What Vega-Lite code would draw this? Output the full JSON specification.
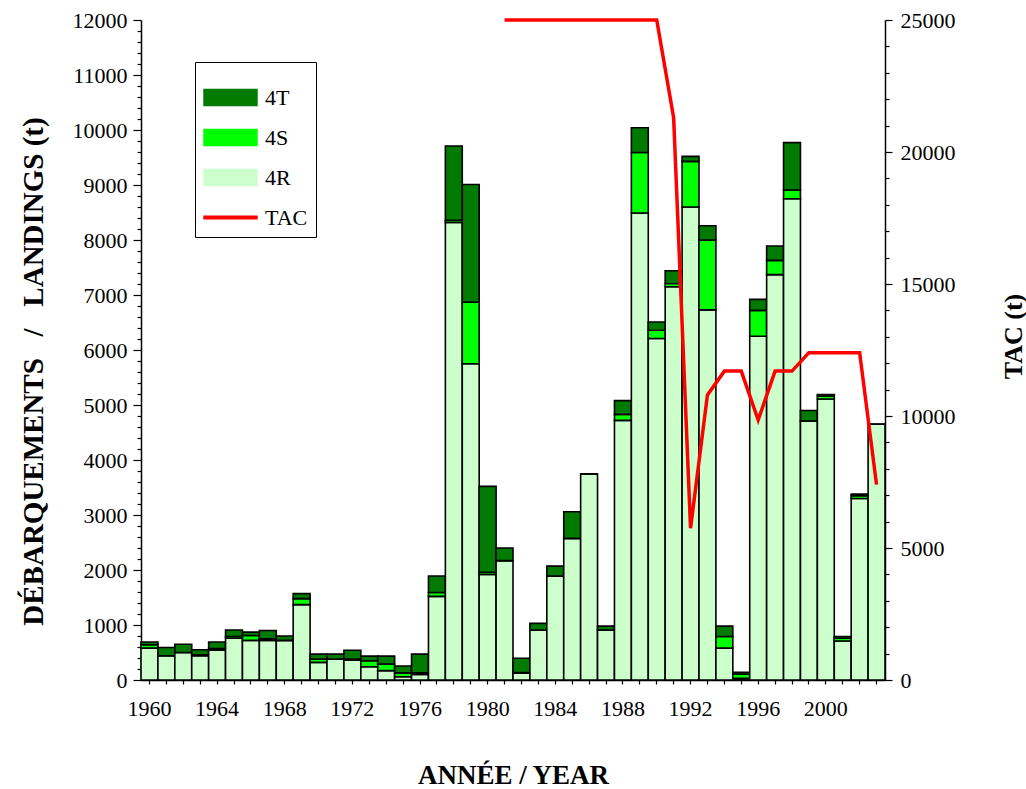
{
  "$schema": "https://vega.github.io/schema/vega-lite/v6.json",
  "width": 744,
  "height": 660,
  "autosize": {"type": "none"},
  "padding": {"left": 141, "top": 20, "right": 141, "bottom": 109},
  "background": "white",
  "config": {
    "view": {"stroke": null},
    "font": "Liberation Serif",
    "axis": {
      "grid": false,
      "domainColor": "black",
      "domainWidth": 1.5,
      "tickColor": "black",
      "tickWidth": 1.2,
      "labelColor": "black",
      "titleColor": "black",
      "labelFont": "Liberation Serif",
      "titleFont": "Liberation Serif",
      "labelFontSize": 22,
      "labelOverlap": false
    }
  },
  "datasets": {
    "landings": [
      {"year": 1960, "4R": 580, "4S": 60, "4T": 50},
      {"year": 1961, "4R": 440, "4S": 0, "4T": 150},
      {"year": 1962, "4R": 500, "4S": 0, "4T": 150},
      {"year": 1963, "4R": 440, "4S": 20, "4T": 90},
      {"year": 1964, "4R": 540, "4S": 30, "4T": 120},
      {"year": 1965, "4R": 760, "4S": 30, "4T": 120},
      {"year": 1966, "4R": 720, "4S": 90, "4T": 60},
      {"year": 1967, "4R": 720, "4S": 30, "4T": 150},
      {"year": 1968, "4R": 720, "4S": 0, "4T": 80},
      {"year": 1969, "4R": 1370, "4S": 110, "4T": 90},
      {"year": 1970, "4R": 320, "4S": 60, "4T": 90},
      {"year": 1971, "4R": 380, "4S": 0, "4T": 90},
      {"year": 1972, "4R": 360, "4S": 20, "4T": 160},
      {"year": 1973, "4R": 240, "4S": 110, "4T": 85},
      {"year": 1974, "4R": 170, "4S": 120, "4T": 145},
      {"year": 1975, "4R": 60, "4S": 70, "4T": 125},
      {"year": 1976, "4R": 100, "4S": 30, "4T": 340},
      {"year": 1977, "4R": 1520, "4S": 70, "4T": 300},
      {"year": 1978, "4R": 8320, "4S": 40, "4T": 1350},
      {"year": 1979, "4R": 5750, "4S": 1120, "4T": 2140},
      {"year": 1980, "4R": 1920, "4S": 40, "4T": 1560},
      {"year": 1981, "4R": 2170, "4S": 0, "4T": 230},
      {"year": 1982, "4R": 125, "4S": 10, "4T": 260},
      {"year": 1983, "4R": 910, "4S": 0, "4T": 120},
      {"year": 1984, "4R": 1890, "4S": 0, "4T": 180},
      {"year": 1985, "4R": 2575, "4S": 0, "4T": 485},
      {"year": 1986, "4R": 3745, "4S": 0, "4T": 0},
      {"year": 1987, "4R": 910, "4S": 0, "4T": 70},
      {"year": 1988, "4R": 4720, "4S": 110, "4T": 250},
      {"year": 1989, "4R": 8490, "4S": 1100, "4T": 450},
      {"year": 1990, "4R": 6210, "4S": 150, "4T": 150},
      {"year": 1991, "4R": 7150, "4S": 60, "4T": 230},
      {"year": 1992, "4R": 8600, "4S": 830, "4T": 90},
      {"year": 1993, "4R": 6730, "4S": 1270, "4T": 260},
      {"year": 1994, "4R": 580, "4S": 210, "4T": 190},
      {"year": 1995, "4R": 30, "4S": 80, "4T": 30},
      {"year": 1996, "4R": 6250, "4S": 470, "4T": 200},
      {"year": 1997, "4R": 7370, "4S": 260, "4T": 260},
      {"year": 1998, "4R": 8750, "4S": 160, "4T": 860},
      {"year": 1999, "4R": 4710, "4S": 0, "4T": 190},
      {"year": 2000, "4R": 5110, "4S": 50, "4T": 30},
      {"year": 2001, "4R": 710, "4S": 50, "4T": 30},
      {"year": 2002, "4R": 3300, "4S": 50, "4T": 30},
      {"year": 2003, "4R": 4650, "4S": 0, "4T": 0}
    ],
    "tac": [
      {"year": 1981, "tac": 25000},
      {"year": 1982, "tac": 25000},
      {"year": 1983, "tac": 25000},
      {"year": 1984, "tac": 25000},
      {"year": 1985, "tac": 25000},
      {"year": 1986, "tac": 25000},
      {"year": 1987, "tac": 25000},
      {"year": 1988, "tac": 25000},
      {"year": 1989, "tac": 25000},
      {"year": 1990, "tac": 25000},
      {"year": 1991, "tac": 21300},
      {"year": 1992, "tac": 5750},
      {"year": 1993, "tac": 10800},
      {"year": 1994, "tac": 11700},
      {"year": 1995, "tac": 11700},
      {"year": 1996, "tac": 9850},
      {"year": 1997, "tac": 11700},
      {"year": 1998, "tac": 11700},
      {"year": 1999, "tac": 12400},
      {"year": 2000, "tac": 12400},
      {"year": 2001, "tac": 12400},
      {"year": 2002, "tac": 12400},
      {"year": 2003, "tac": 7400}
    ]
  },
  "layer": [
    {
      "data": {"name": "landings"},
      "transform": [{"fold": ["4R", "4S", "4T"], "as": ["series", "value"]}],
      "mark": {"type": "bar", "stroke": "black", "strokeWidth": 1.6},
      "encoding": {
        "x": {
          "field": "year",
          "type": "ordinal",
          "scale": {"paddingInner": 0, "paddingOuter": 0},
          "axis": {
            "labelExpr": "datum.value % 4 === 0 ? datum.label : ''",
            "labelAngle": 0,
            "tickSize": 4,
            "labelPadding": 14,
            "title": "ANNÉE / YEAR",
            "titleFontSize": 27,
            "titleFontWeight": "bold",
            "titleY": 103,
            "titleBaseline": "alphabetic"
          }
        },
        "y": {
          "field": "value",
          "type": "quantitative",
          "stack": "zero",
          "scale": {"domain": [0, 12000], "nice": false},
          "axis": {
            "orient": "left",
            "tickCount": 60,
            "format": "d",
            "labelExpr": "datum.value % 1000 === 0 ? datum.label : ''",
            "tickSize": {"condition": {"test": "datum.value % 1000 === 0", "value": 8}, "value": 4},
            "labelPadding": 6,
            "title": "DÉBARQUEMENTS \u00a0\u00a0/\u00a0\u00a0 LANDINGS (t)",
            "titleFontSize": 29,
            "titleFontWeight": "bold",
            "titleAngle": 270,
            "titleX": -99,
            "titleY": 351,
            "titleAlign": "center",
            "titleBaseline": "alphabetic"
          }
        },
        "color": {
          "field": "series",
          "type": "nominal",
          "scale": {"domain": ["4T", "4S", "4R", "TAC"], "range": ["#007A00", "#00FF00", "#CCFFCC", "#FF0000"]},
          "legend": {
            "orient": "none",
            "legendX": 54,
            "legendY": 42,
            "title": null,
            "strokeColor": "black",
            "fillColor": "white",
            "padding": 8,
            "labelFont": "Liberation Serif",
            "labelFontSize": 22,
            "labelColor": "black",
            "labelOffset": 7,
            "symbolSize": 2800,
            "rowPadding": 1,
            "symbolStrokeWidth": 1.5,
            "symbolType": "M-1,-0.3H1V0.3H-1Z",
            "encoding": {
              "symbols": {
                "shape": {"value": {"expr": "datum.value === 'TAC' ? 'M-1,-0.05H1V0.05H-1Z' : 'M-1,-0.3H1V0.3H-1Z'"}},
                "stroke": {"value": {"expr": "datum.value === 'TAC' ? '#FF0000' : '#000000'"}},
                "strokeWidth": {"value": 1.5},
                "strokeOpacity": {"value": 1}
              }
            }
          }
        },
        "order": {"field": "series", "sort": "ascending"}
      }
    },
    {
      "data": {"name": "tac"},
      "mark": {"type": "line", "color": "#FF0000", "strokeWidth": 3.5},
      "encoding": {
        "x": {"field": "year", "type": "ordinal"},
        "y": {
          "field": "tac",
          "type": "quantitative",
          "scale": {"domain": [0, 25000], "nice": false},
          "axis": {
            "orient": "right",
            "tickCount": 25,
            "format": "d",
            "labelExpr": "datum.value % 5000 === 0 ? datum.label : ''",
            "tickSize": {"condition": {"test": "datum.value % 5000 === 0", "value": 7}, "value": 4},
            "labelPadding": 8,
            "title": "TAC (t)",
            "titleFontSize": 26,
            "titleFontWeight": "bold",
            "titleAngle": 270,
            "titleX": 136,
            "titleY": 316,
            "titleAlign": "center",
            "titleBaseline": "alphabetic"
          }
        },
        "color": {"datum": "TAC", "legend": null}
      }
    }
  ],
  "resolve": {"scale": {"y": "independent"}}
}
